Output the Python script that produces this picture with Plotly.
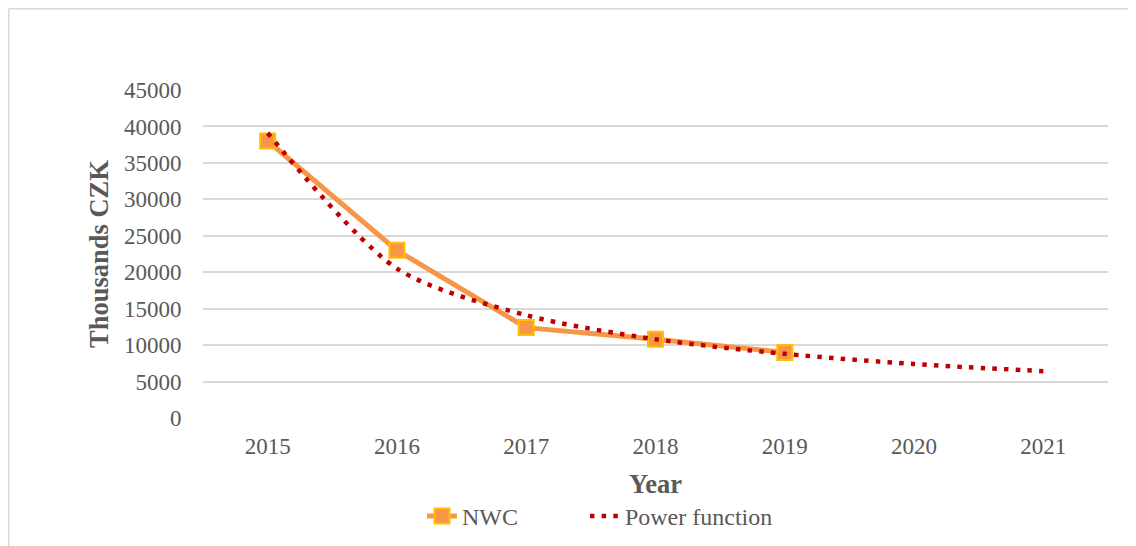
import plotly.graph_objects as go

years = ["2015", "2016", "2017", "2018", "2019", "2020", "2021"]
nwc_years = ["2015", "2016", "2017", "2018", "2019"]
nwc_values = [38000, 23000, 12400, 10800, 9000]
power_values = [39100, 20500, 14100, 10800, 8800, 7400, 6430]
y_ticks = [0, 5000, 10000, 15000, 20000, 25000, 30000, 35000, 40000, 45000]

FONT = "Liberation Serif, Times New Roman, serif"
GREY = "#595959"

fig = go.Figure()
fig.add_trace(go.Scatter(
    x=nwc_years, y=nwc_values, name="NWC", mode="lines+markers",
    line=dict(color="#f79646", width=5),
    marker=dict(symbol="square", size=15, color="#f79646",
                line=dict(color="#ffc000", width=2)),
    legend="legend",
))
fig.add_trace(go.Scatter(
    x=years, y=power_values, name="Power function", mode="lines",
    line=dict(color="#c00000", width=4.5, dash="4.5px,7.2px", shape="spline", smoothing=0.8),
    legend="legend2",
))

legend_common = dict(orientation="h", xanchor="left", y=-0.30, yanchor="middle",
                     font=dict(family=FONT, size=24, color=GREY),
                     bgcolor="rgba(0,0,0,0)")

fig.update_layout(
    width=1128, height=538,
    margin=dict(l=195, r=28, t=82, b=128, autoexpand=False),
    paper_bgcolor="white", plot_bgcolor="white",
    font=dict(family=FONT, color=GREY, size=23),
    showlegend=True,
    legend=dict(x=0.242, **legend_common),
    legend2=dict(x=0.422, **legend_common),
    xaxis=dict(type="category", categoryorder="array", categoryarray=years,
               range=[-0.5, 6.5], showgrid=False, showline=False, zeroline=False,
               automargin=False,
               ticks="outside", ticklen=7, tickcolor="rgba(0,0,0,0)",
               tickfont=dict(size=23, color=GREY),
               title=dict(text="<b>Year</b>", font=dict(size=26.5, color=GREY), standoff=16)),
    yaxis=dict(range=[0, 45000], tickvals=y_ticks, tickformat="d", showgrid=True,
               gridcolor="#d9d9d9", gridwidth=1.5, zeroline=False, showline=False,
               automargin=False,
               ticks="outside", ticklen=16, tickcolor="rgba(0,0,0,0)",
               tickfont=dict(size=23, color=GREY),
               title=dict(text="<b>Thousands CZK</b>", font=dict(size=26.5, color=GREY), standoff=7)),
    shapes=[
        dict(type="line", xref="paper", yref="paper", x0=-0.2146, x1=1.1, y0=1.2477, y1=1.2477,
             line=dict(color="#d9d9d9", width=1.5)),
        dict(type="line", xref="paper", yref="paper", x0=-0.2146, x1=-0.2146, y0=-0.45, y1=1.2477,
             line=dict(color="#d9d9d9", width=1.5)),
    ],
)

fig.write_html("out.html")
